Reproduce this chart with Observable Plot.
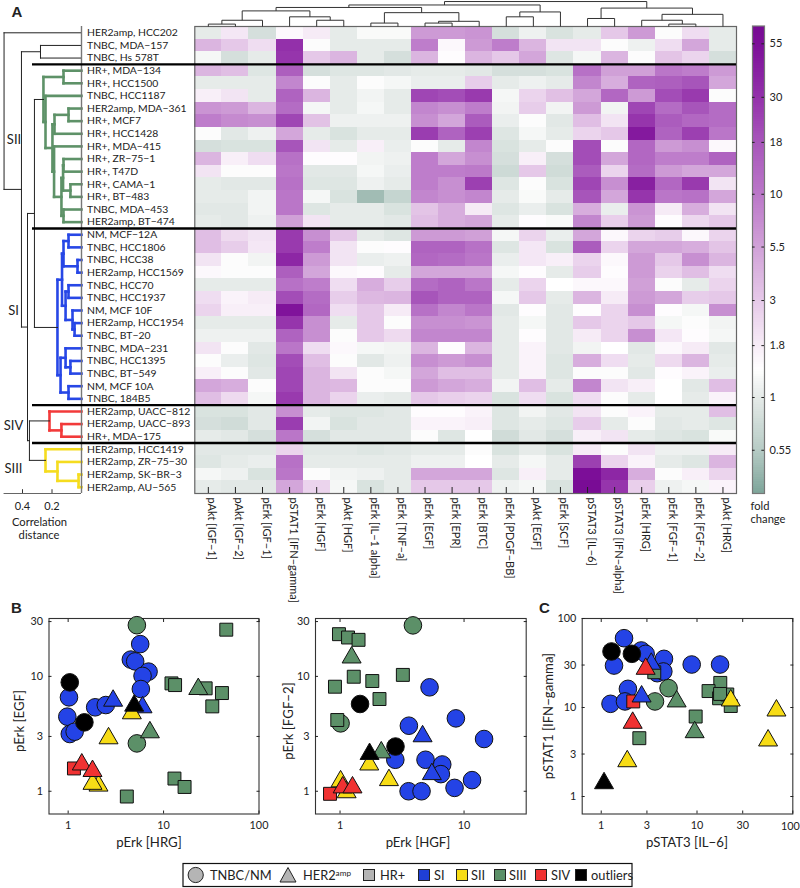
<!DOCTYPE html>
<html><head><meta charset="utf-8">
<script src="https://cdn.jsdelivr.net/npm/d3@7"></script>
<script src="https://cdn.jsdelivr.net/npm/@observablehq/plot@0.6"></script>
<style>
html,body{margin:0;padding:0;background:#fff}
#page{position:relative;width:800px;height:888px;overflow:hidden;font-family:Lato,sans-serif;color:#222}
.layer{position:absolute}
.lbl{position:absolute;white-space:nowrap;line-height:1}
</style></head><body><div id="page"></div>
<script>
const rowLabels = ["HER2amp, HCC202","TNBC, MDA−157","TNBC, Hs 578T","HR+, MDA−134","HR+, HCC1500","TNBC, HCC1187","HER2amp, MDA−361","HR+, MCF7","HR+, HCC1428","HR+, MDA−415","HR+, ZR−75−1","HR+, T47D","HR+, CAMA−1","HR+, BT−483","TNBC, MDA−453","HER2amp, BT−474","NM, MCF−12A","TNBC, HCC1806","TNBC, HCC38","HER2amp, HCC1569","TNBC, HCC70","TNBC, HCC1937","NM, MCF 10F","HER2amp, HCC1954","TNBC, BT−20","TNBC, MDA−231","TNBC, HCC1395","TNBC, BT−549","NM, MCF 10A","TNBC, 184B5","HER2amp, UACC−812","HER2amp, UACC−893","HR+, MDA−175","HER2amp, HCC1419","HER2amp, ZR−75−30","HER2amp, SK−BR−3","HER2amp, AU−565"];
const colLabels = ["pAkt [IGF−1]","pAkt [IGF−2]","pErk [IGF−1]","pSTAT1 [IFN−gamma]","pErk [HGF]","pAkt [HGF]","pErk [IL−1 alpha]","pErk [TNF−a]","pErk [EGF]","pErk [EPR]","pErk [BTC]","pErk [PDGF−BB]","pAkt [EGF]","pErk [SCF]","pSTAT3 [IL−6]","pSTAT3 [IFN−alpha]","pErk [HRG]","pErk [FGF−1]","pErk [FGF−2]","pAkt [HRG]"];
const foldChange = [
[1,1.9,.8,1.5,1.8,1,1.25,1.25,6,6,6.5,.8,1.1,.85,1,3,6,1.3,2.2,1],
[4,3,2.2,30,1.3,1,1,1,9,1.5,6,9,4,2,2,1.3,1.1,2.2,5,1],
[1.2,.8,1,28,3,4,1,.8,4,1.4,4,3,5,.9,1.2,4,1.3,3.2,2.5,.8],
[4,3.5,.9,15,.8,.9,.9,.95,1,1,.95,.8,.8,.85,11,5.5,5.5,10,9,6],
[1,1,1,8,1.3,1,1.3,1.2,1.05,1.05,2.8,1,1.1,1,8,4.5,14,15,18,5],
[1.7,2,1,14,4,1,1.15,1,22,20,26,1.2,2.5,3.4,5,13,6,20,26,1.3],
[6.5,6,4,12,1.2,1,1.2,1,8,7,9,1.15,2.8,1.15,6,1.15,22,12,18,12],
[9,7.5,7,22,3.3,1.1,1.1,1.1,7,5,16,1.05,1.3,.95,3.5,2,28,16,13,12],
[1.3,.95,1.1,5,1,.85,1,1,25,14,24,.9,1.2,1,2.5,3,45,14,24,10],
[.8,.85,.85,18,2,1,1.7,1.05,1.3,1,8,.85,1,1.3,20,1.3,13,6,7,1.5],
[4,1.7,2.2,11,1.4,1.4,1.15,1.1,9,5,7,.8,1.7,.8,20,5,13,9,9,14],
[2,1.3,1.3,10,.95,.95,1.2,1.05,9,9,9.5,.72,3,.75,16,2.5,12,6,5,5],
[1,.95,.95,11,.9,.9,1.1,1,9,7,24,.9,1.3,.85,22,7,40,13,26,2],
[1,1,1.15,10,1.2,.85,.45,.65,8,7,8,1,1.25,1,18,5,28,10,11,5],
[.95,.95,1.15,10,.9,1,1,.85,3.2,4.5,1.8,.9,1.05,.85,4.5,1.05,6.5,1.8,4.5,2],
[1,.95,1.1,5.5,2,1,1,.95,3.5,4.5,5,1,1.4,1.25,8,2.7,6,1.4,2.4,3],
[3.5,2.3,2,26,7,3,1,.9,6,6,5.5,1.2,2.5,1.05,5,1.5,2.5,2.8,1.5,2.5],
[3.5,2.8,1.9,26,9,2,1.3,1.4,14,14,11,.9,1.9,.85,16,2.5,5,5,4.5,3.2],
[2,1.3,1.15,35,6,2,1.05,1.1,13,12,10,1.05,1.9,1.7,2.5,1.5,6,3,7,4],
[1.5,1.3,1.3,15,5,1.5,1.4,1,5,5,5,1.2,1.4,1,2.8,1.4,6,2.6,3.5,2.2],
[1,1,1,11,9,2.2,4.5,2.8,12,14,10,1,2.5,1.35,1.5,1.5,5.5,1.3,1,2.5],
[2.2,1.6,1.8,20,12,2.8,3.8,4,18,14,14,1.2,3,1,4,1.8,6,5,2.8,3],
[2.5,1.7,1.7,50,13,2.2,3,1.8,11,8,10,.95,1.4,.95,1.4,2.5,7,1.4,1.2,7],
[1,1,1,28,7,1,3,1.3,7,7,6.5,1,1.2,.95,3,2.5,3,1.2,1.3,1.15],
[1.1,1.1,1.1,14,7,1.3,3,2.3,8,8,8,1,1.4,.95,1.8,2.5,7,1.9,1.4,1.2],
[2,1.3,.95,10,2.2,1.5,1.2,1.15,4,1.4,4,1,1.6,.95,1.15,1.35,.95,1.5,1.8,.95],
[1.3,1.05,.9,20,3.5,1.3,.95,1.1,7,6,7,1,1.6,.9,4.5,2.2,1,2.3,4,1],
[1.7,1.3,.95,22,4,2,1.3,1.2,5,3.5,3.5,1,1.6,.9,1.3,1.3,.95,1.4,1.6,1.05],
[5,4.5,1.3,22,4,3.8,1.3,1.3,6,5,4.5,1.15,3.5,1,8,2,1.7,1.35,.95,3.5],
[3.5,2.3,1.2,26,4,2.5,1.05,1,3,2.7,2.5,.85,2.2,.85,2.2,1.3,1,1.35,1,1.6],
[.85,.85,.95,7,1,.9,.9,.95,1.4,1.4,1.6,.9,1.15,.95,2,1.3,1.6,1,1,3.5],
[.8,.75,.95,25,1.15,.85,.95,.95,1.6,1.6,1.7,.9,1,.9,2.8,1,1.3,.95,1,.9],
[1,.95,.8,10,.8,.95,.95,.95,1.3,.9,1.35,.75,.95,.8,1.7,2,1,.9,.85,1.25],
[.95,.95,.95,2.5,.95,.95,.9,.95,1,1,1.3,.85,1,.85,1.8,1.3,2,1.1,1.1,1.8],
[.9,1,1.05,11,1,1,1,1,1.1,1.1,1.35,1,1.2,1,24,2.5,1.6,1,.9,4],
[1.2,1.1,.85,10,1.3,1.15,1.1,1,5,5,5,.9,1.7,1,55,35,4.5,1.3,1.7,2.5],
[1,.95,.95,5,2.5,1.2,.85,1,3,3,3,1.1,1.2,.85,60,28,2.7,1.1,1.2,1.6]
];
const colorbarTicks = [55,30,18,10,5.5,3,1.8,1,.55];
const colorStops = [.337,.55,1,1.35,1.8,3,5.5,10,18,30,55,67];
const colorRange = ["#7fa69b","#b8ccc6","#e6ebe9","#ffffff","#f6ebf6","#e5c8e8","#d0a0d7","#ba76c8","#a755ba","#9330aa","#7c0e98","#760a92"];

// Row tree: [distance, childA, childB, colour]; a bare number is a row.
const siiTree = [.258,[.122,4,5],[.244,6,[.197,[.183,[.088,7,8],9],[.186,10,[.136,[.125,[.122,11,12],[.075,13,14]],[.122,15,16]]]]],"#5e9268"];
const siTree = [.163,[.132,[.122,[.088,17,18],[.027,19,20]],[.108,[.088,21,22],[.061,23,[.047,24,25]]]],[.142,[.108,26,[.075,27,28]],[.088,29,30]],"#2747e6"];
const sivTree = [.217,31,[.136,32,33],"#f23a3a"];
const siiiTree = [.244,34,[.163,35,[.020,36,37]],"#f5dc1f"];
const rowTree = [.525,1,[.407,[.278,2,3],[.366,[.319,siiTree,siTree],[.353,sivTree,siiiTree]]]];
// Column tree: [height, childA, childB]; a bare number is a column.
const colTree = [24,[20.7,[18.3,[15,[6,[2.3,1,2],3],[9.3,4,[6,5,6]]],[13.3,[3.3,7,8],[5,[3.3,9,10],11]]],[14,[9.3,12,13],14]],[17.7,[7.7,15,16],[11.7,[6,17,[2.3,18,19]],20]]];
const separators = [3.5,16.5,30.5,33.5];

const groups = ["SI","SII","SIII","SIV","outliers"];
const groupColors = ["#2443e6","#f7dc16","#5c9068","#f03232","#000000"];

const panelB1 = [
[1.02,6.57,"c","SI"],[.98,4.46,"c","SI"],[1.04,3.15,"c","SI"],[1.17,3.30,"c","SI"],[1.92,5.38,"c","SI"],[2.48,5.63,"c","SI"],[5.69,19.1,"c","SI"],[4.54,14.0,"c","SI"],[5.04,13.5,"c","SI"],[6.96,11.0,"c","SI"],[6.02,10.1,"c","SI"],[5.78,7.76,"c","SI"],[2.96,6.14,"t","SI"],[6.02,5.38,"t","SI"],
[5.25,27.9,"c","SIII"],[5.25,2.61,"c","SIII"],[23.1,7.76,"t","SIII"],[7.19,3.26,"t","SIII"],[45.4,25.5,"s","SIII"],[12.1,8.69,"s","SIII"],[13.2,8.40,"s","SIII"],[27.6,7.87,"s","SIII"],[40.9,7.16,"s","SIII"],[32.4,5.48,"s","SIII"],[13.0,1.29,"s","SIII"],[16.6,1.09,"s","SIII"],[4.12,.90,"s","SIII"],
[2.65,2.89,"t","SII"],[4.65,4.77,"t","SII"],[2.08,1.12,"t","SII"],[1.80,1.16,"t","SII"],
[1.39,1.71,"t","SIV"],[1.80,1.50,"t","SIV"],[1.15,1.58,"s","SIV"],
[1.04,8.87,"c","outliers"],[1.48,3.98,"c","outliers"],[4.92,5.56,"t","outliers"]];
const panelB2 = [
[5.27,8.03,"c","SI"],[8.59,4.31,"c","SI"],[3.59,3.72,"c","SI"],[14.5,2.85,"c","SI"],[2.79,1.88,"c","SI"],[4.89,1.88,"c","SI"],[6.67,1.71,"c","SI"],[6.50,1.41,"c","SI"],[11.6,1.25,"c","SI"],[8.38,1.07,"c","SI"],[3.57,1.00,"c","SI"],[4.54,1.00,"c","SI"],[4.63,3.01,"t","SI"],[5.50,1.41,"t","SI"],
[3.87,27.8,"c","SIII"],[1.01,3.90,"c","SIII"],[1.24,14.6,"t","SIII"],[2.15,2.18,"t","SIII"],[.98,23.3,"s","SIII"],[1.16,21.8,"s","SIII"],[1.41,20.8,"s","SIII"],[1.29,9.93,"s","SIII"],[1.82,9.11,"s","SIII"],[3.21,10.3,"s","SIII"],[.91,8.13,"s","SIII"],[2.08,6.35,"s","SIII"],[.95,4.17,"s","SIII"],
[1.72,1.71,"t","SII"],[2.48,1.25,"t","SII"],[1.01,1.22,"t","SII"],[1.13,.98,"t","SII"],
[1.05,1.08,"t","SIV"],[1.26,1.08,"t","SIV"],[.83,.95,"s","SIV"],
[1.45,5.75,"c","outliers"],[2.80,2.45,"c","outliers"],[1.73,2.11,"t","outliers"]];
const panelC = [
[1.73,60.1,"c","SI"],[1.36,29.6,"c","SI"],[2.62,43.7,"c","SI"],[2.91,40.1,"c","SI"],[4.52,35.2,"c","SI"],[3.85,24.3,"c","SI"],[4.45,25.4,"c","SI"],[8.80,30.4,"c","SI"],[17.4,30.4,"c","SI"],[1.90,16.2,"c","SI"],[1.25,11.0,"c","SI"],[1.77,11.7,"c","SI"],[2.64,13.3,"t","SI"],[3.33,31.0,"t","SI"],
[5.05,16.5,"c","SIII"],[3.64,11.7,"c","SIII"],[6.13,11.7,"t","SIII"],[9.45,5.28,"t","SIII"],[3.58,24.9,"s","SIII"],[17.5,18.9,"s","SIII"],[13.2,15.3,"s","SIII"],[17.0,12.7,"s","SIII"],[20.7,14.0,"s","SIII"],[17.4,14.2,"s","SIII"],[22.5,10.4,"s","SIII"],[9.68,7.92,"s","SIII"],[2.50,4.52,"s","SIII"],
[22.5,12.0,"t","SII"],[67.5,9.25,"t","SII"],[55.2,4.26,"t","SII"],[1.87,2.49,"t","SII"],
[2.91,27.2,"t","SIV"],[2.13,6.73,"t","SIV"],[2.16,11.7,"s","SIV"],
[1.28,42.6,"c","outliers"],[2.09,40.1,"c","outliers"],[1.07,1.41,"t","outliers"]];

const FONT = 'Lato,sans-serif';
const FS = 11, ROWFS = 10.4, TICKFS = 10.8;
const page = document.getElementById("page");
function place(node,left,top){const w=document.createElement("div");w.className="layer";w.style.left=left+"px";w.style.top=top+"px";w.appendChild(node);page.appendChild(w);}
function label(t,x,y,o={}){const d=document.createElement("div");d.className="lbl";d.textContent=t;
 d.style.left=x+"px";d.style.top=y+"px";d.style.fontSize=(o.size||13.2)+"px";if(o.bold){d.style.fontWeight=700;d.style.fontFamily='"Liberation Sans",sans-serif';}
 d.style.transform=`translate(-50%,-50%)${o.rotate?` rotate(${o.rotate}deg)`:""}`;page.appendChild(d);}
const baseStyle={fontFamily:FONT,fontSize:FS+"px",background:"transparent",overflow:"visible",color:"#222"};

// walk a tree into line segments
function flatten(node,out,colour,width){
 if(typeof node==="number")return {p:node,h:0};
 const c=node[3]||colour,w=node[3]?2.6:width;
 const a=flatten(node[1],out,c,w),b=flatten(node[2],out,c,w),h=node[0];
 out.push({h1:h,h2:h,p1:a.p,p2:b.p,c,w});
 out.push({h1:a.h,h2:h,p1:a.p,p2:a.p,c,w});
 out.push({h1:b.h,h2:h,p1:b.p,p2:b.p,c,w});
 return {p:(a.p+b.p)/2,h};
}

// Heatmap
const cells=foldChange.flatMap((r,i)=>r.map((v,j)=>({row:rowLabels[i],col:colLabels[j],v})));
const colorScale={type:"log",domain:colorStops,range:colorRange,clamp:true};
place(Plot.plot({width:800,height:600,marginLeft:194.3,marginRight:64,marginTop:26,marginBottom:107,style:baseStyle,
 x:{domain:colLabels,padding:0,round:false,axis:null},y:{domain:rowLabels,padding:0,round:false,axis:null},color:colorScale,
 marks:[
  Plot.cell(cells,{x:"col",y:"row",fill:"v",shapeRendering:"crispEdges"}),
  Plot.frame({stroke:"#666",strokeWidth:1.2}),
  Plot.axisX({anchor:"bottom",tickSize:-6,tickFormat:()=>"",label:null,stroke:"#222"}),
  Plot.text(colLabels,{x:d=>d,frameAnchor:"bottom",rotate:90,textAnchor:"start",dy:4,fill:"#222",fontSize:FS})
 ]}),0,0);

// Column dendrogram
const colSegs=[];flatten(colTree,colSegs,"#444",1);
place(Plot.plot({width:800,height:26,marginLeft:194.3,marginRight:64,marginTop:0,marginBottom:0,style:baseStyle,
 x:{domain:[.5,20.5],axis:null},y:{domain:[0,25],axis:null},
 marks:[Plot.link(colSegs,{x1:"p1",x2:"p2",y1:"h1",y2:"h2",stroke:"#333",strokeWidth:1})]}),0,0);

// Row dendrogram and row labels, drawn over the heatmap with the separators
const rowSegs=[];flatten(rowTree,rowSegs,"#222",1);
const D=147.5;
place(Plot.plot({width:800,height:520,margin:0,style:baseStyle,
 x:{domain:[81/D,(81-800)/D],axis:null},y:{domain:[.5,37.5],range:[26,493],axis:null},color:{type:"identity"},
 marks:[
  Plot.link(rowSegs,{x1:"h1",x2:"h2",y1:"p1",y2:"p2",stroke:"c",strokeWidth:"w",strokeLinecap:"square"}),
  Plot.ruleX([0],{y1:.5,y2:37.5,stroke:"#777",strokeWidth:1.4}),
  Plot.ruleY([37.5],{x1:.525,x2:0,stroke:"#666",strokeWidth:1.2}),
  Plot.ruleX([.4,.2],{y1:37.5,y2:37.2,stroke:"#333"}),
  Plot.text(rowLabels,{x:0,y:(d,i)=>i+1,dx:5.5,textAnchor:"start",fill:"#222",fontSize:ROWFS}),
  Plot.text(["0.4","0.2"],{x:d=>+d,y:38.55,fill:"#222",fontSize:FS}),
  Plot.ruleY(separators,{x1:(81-32)/D,x2:(81-736)/D,stroke:"#000",strokeWidth:2.4})
 ]}),0,0);
[["SII",14,139],["SI",13.5,310],["SIV",13.5,425],["SIII",13.5,468]].forEach(([t,x,y])=>{
  const d=document.createElement("div");d.className="lbl";d.textContent=t;d.style.cssText+=`left:${x}px;top:${y}px;font-size:13px;transform:translate(-50%,-50%);background:#fff;padding:1px 0`;page.appendChild(d);});
label("Correlation",39.5,522,{size:11.2});label("distance",39,535,{size:11.2});

// Colour bar
const barSteps=d3.range(0,200).map(i=>.337*Math.pow(67.3/.337,i/200));
const barNext=i=>.337*Math.pow(67.3/.337,(i+1)/200);
place(Plot.plot({width:55,height:505,marginLeft:7,marginRight:36,marginTop:25.5,marginBottom:12,style:baseStyle,
 x:{domain:[0,1],axis:null},y:{type:"log",domain:[.337,67.3],axis:null},color:colorScale,
 marks:[
  Plot.rect(barSteps,{x1:0,x2:1,y1:d=>d,y2:(d,i)=>barNext(i),fill:d=>d,shapeRendering:"crispEdges"}),
  Plot.frame({stroke:"#777",strokeWidth:1.2}),
  Plot.ruleY(colorbarTicks,{x1:0,x2:.22,stroke:"#222"}),
  Plot.ruleY(colorbarTicks,{x1:.78,x2:1,stroke:"#222"}),
  Plot.text(colorbarTicks,{x:1,y:d=>d,text:d=>String(d),dx:5,textAnchor:"start",fill:"#222",fontSize:FS})
 ]}),745,0);
label("fold",760,506,{size:11.2});label("change",768,519,{size:11.2});

// Scatter panels
const SR={c:8.8,t:7.05,s:7.3};
function scatter(data,o){
 return Plot.plot({width:o.w,height:250,marginLeft:o.ml,marginRight:o.mr,marginTop:18,marginBottom:36.5,style:baseStyle,
  x:{type:"log",domain:o.xd,axis:null},y:{type:"log",domain:o.yd,axis:null},
  color:{domain:groups,range:groupColors},symbol:{domain:["c","t","s"],range:["circle","triangle","square"]},r:{type:"identity"},
  marks:[
   Plot.frame({stroke:"#333",strokeWidth:1.1}),
   Plot.axisX({anchor:"bottom",ticks:o.xt,tickSize:-3,tickPadding:10,tickFormat:d=>d===o.edge?"":String(d),label:null,fontSize:TICKFS}),
   Plot.axisX({anchor:"top",ticks:o.xt,tickSize:-3,tickFormat:()=>"",label:null}),
   Plot.axisY({anchor:"left",ticks:o.yt,tickSize:-3,tickPadding:9,tickFormat:d=>String(d),label:null,fontSize:TICKFS}),
   Plot.axisY({anchor:"right",ticks:o.yt,tickSize:-3,tickFormat:()=>"",label:null}),
   o.edge?Plot.text([o.edge],{x:d=>d,frameAnchor:"bottom",lineAnchor:"middle",dy:13,dx:-2.5,text:d=>String(d),fill:"#222",fontSize:TICKFS}):null,
   Plot.dot(data,{x:d=>d[0],y:d=>d[1],symbol:d=>d[2],r:d=>SR[d[2]],fill:d=>d[3],stroke:"#111",strokeWidth:1})
  ]});
}
place(scatter(panelB1,{w:270,ml:48.5,mr:11.5,xd:[.63,100],yd:[.634,31.9],xt:[1,10,100],yt:[1,3,10,30]}),0,600);
place(scatter(panelB2,{w:265,ml:45,mr:9.3,xd:[.634,31.7],yd:[.634,31.9],xt:[1,10],yt:[1,3,10,30]}),270,600);
place(scatter(panelC,{w:270,ml:51.7,mr:7.7,xd:[.633,100],yd:[.636,100],xt:[1,3,10,30,100],yt:[1,3,10,30,100],edge:100}),530,600);
label("pErk [HRG]",149,843);label("pErk [HGF]",418,843);label("pSTAT3 [IL−6]",687,843);
label("pErk [EGF]",20,721,{rotate:-90});label("pErk [FGF−2]",289,721,{rotate:-90});label("pSTAT1 [IFN−gamma]",549,716,{rotate:-90});
label("A",17,10.5,{size:15,bold:true});label("B",16.5,607,{size:15,bold:true});label("C",544.5,607,{size:15,bold:true});

// Legend
const legendItems=[["SI",424,434,"#1f3fd6"],["SII",462,471,"#f7dc16"],["SIII",500,509,"#5c9068"],["SIV",541,551,"#f03232"],["outliers",581,591,"#000"]];
const lg=`<svg xmlns="http://www.w3.org/2000/svg" width="800" height="30" style="display:block;font-family:${FONT};font-size:12.8px;fill:#222">
<rect x="183" y="4.5" width="449" height="23" fill="#fff" stroke="#111" stroke-width="1.2"/>
<circle cx="195.7" cy="16" r="7.6" fill="#b5b5b5" stroke="#222"/><text x="210" y="20.6">TNBC/NM</text>
<path d="M280 23L288 8.5L296 23Z" fill="#b5b5b5" stroke="#222"/><text x="303" y="20.6">HER2<tspan font-size="8.2" dy="-4">amp</tspan></text>
<rect x="363.5" y="10.5" width="11" height="11" fill="#b5b5b5" stroke="#222"/><text x="380" y="20.6">HR+</text>
${legendItems.map(([t,sx,tx,c])=>`<rect x="${sx-5.5}" y="10.5" width="11" height="11" fill="${c}" stroke="#222"/><text x="${tx}" y="20.6">${t}</text>`).join("")}
</svg>`;
const lgd=document.createElement("div");lgd.className="layer";lgd.style.left="0";lgd.style.top="859px";lgd.innerHTML=lg;page.appendChild(lgd);
</script></body></html>
